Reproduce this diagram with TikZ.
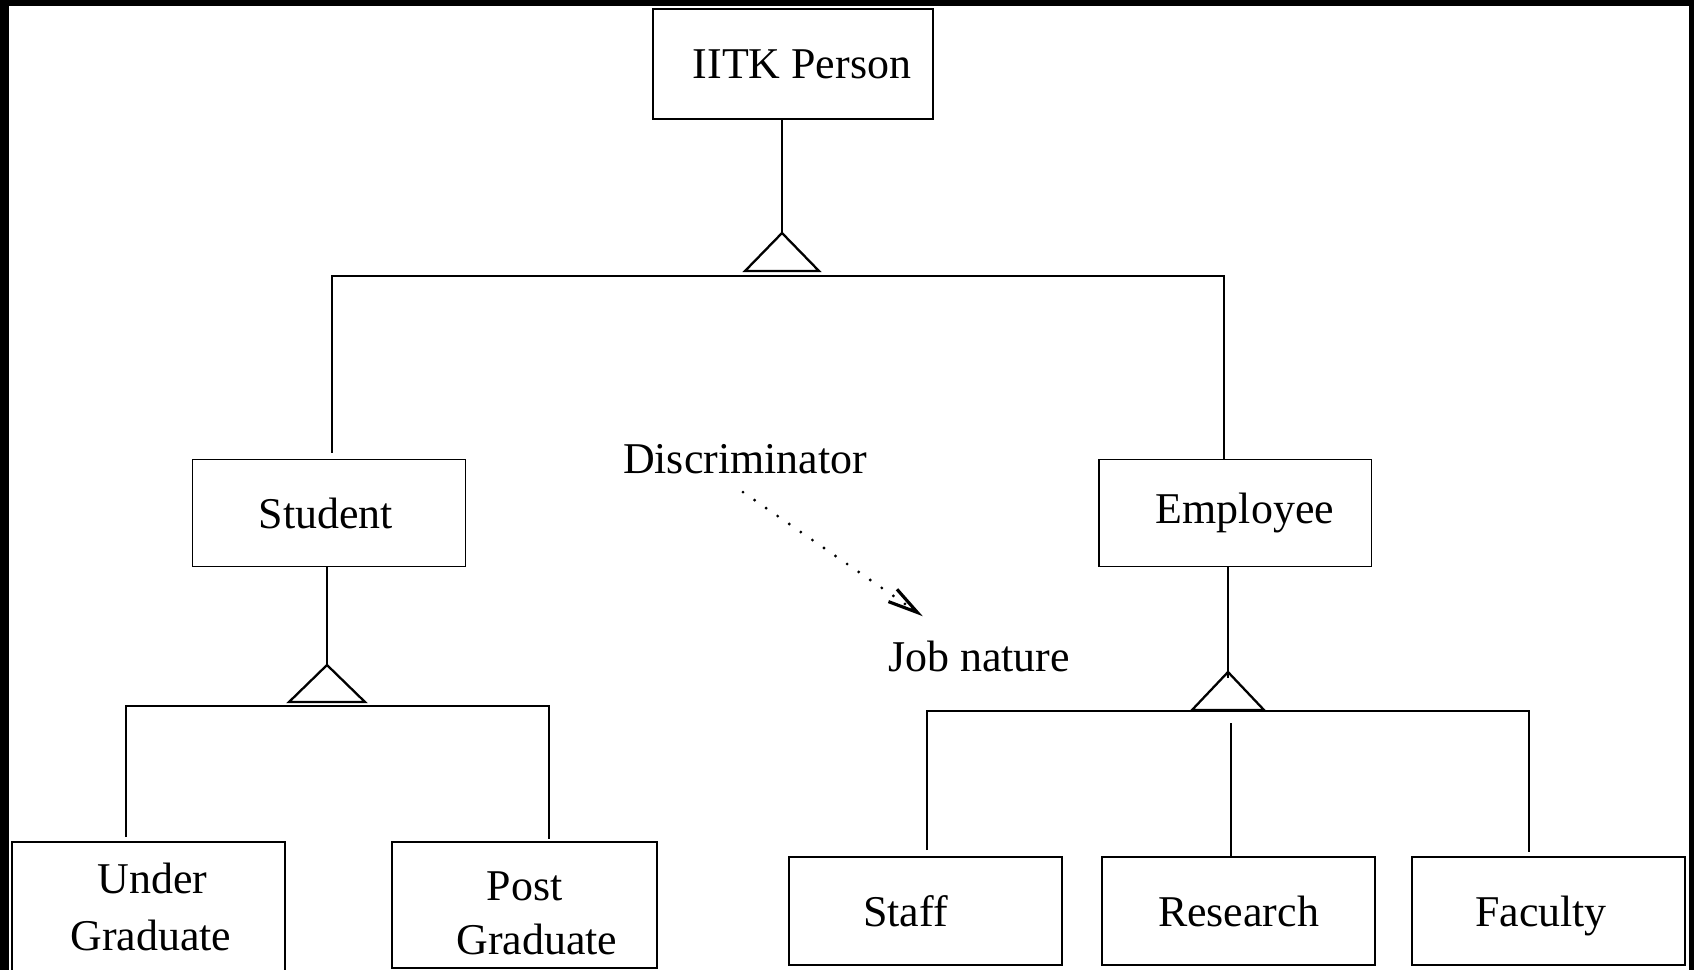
\documentclass[tikz,border=0pt]{standalone}
\usepackage{fontspec}
\setmainfont{Liberation Serif}
\usetikzlibrary{arrows.meta}

\tikzset{
  box/.style={draw, line width=1.1pt, minimum width=5.46cm, minimum height=2.16cm, inner sep=0pt, align=center, font=\fontsize{25}{32}\selectfont},
  lbl/.style={inner sep=0pt, font=\fontsize{25}{32}\selectfont},
  link/.style={line width=1.3pt},
  gen/.style={line width=1.3pt, line join=miter}
}

\begin{document}
\begin{tikzpicture}[x=0.02cm, y=-0.02cm]
\useasboundingbox (0,0) rectangle (1694,970);
\fill (0,0) rectangle (1694,6);
\fill (0,0) rectangle (9,970);
\fill (1689,0) rectangle (1694,970);

\node[box, minimum width=5.6cm, minimum height=2.2cm] (iitk) at (793,64) {\hspace*{0.36cm}IITK Person};
\node[box, minimum height=2.14cm] (student) at (329,513) {Student\hspace*{0.12cm}};
\node[box, minimum height=2.14cm] (employee) at (1235,513) {\hspace*{0.4cm}Employee};
\node[box, minimum width=5.46cm, minimum height=2.6cm] (ug) at (148.5,907) {\hspace*{0.16cm}Under\\\hspace*{0.1cm}Graduate};
\node[box, minimum width=5.3cm, minimum height=2.52cm] (pg) at (524.5,905) {\rule{0pt}{0.85cm}\raisebox{-0.06cm}{Post}\\\hspace*{0.5cm}Graduate};
\node[box] (staff) at (925.5,911) {Staff\hspace*{0.8cm}};
\node[box] (research) at (1238.5,911) {Research};
\node[box] (faculty) at (1548.5,911) {\rule{0pt}{0.8cm}Faculty\hspace*{0.3cm}};
\node[lbl] (disc) at (745,459) {Discriminator};
\node[lbl] (job) at (979,656) {Job nature};

\coordinate (t1) at (782,233);
\coordinate (b1) at (782,276);
\draw[link] (iitk.south -| t1) -- (t1);
\draw[gen] (t1) -- ++(-37,38) -- ++(74,0) -- cycle;
\draw[link] ([xshift=0.06cm,yshift=0.12cm]student.north) |- (b1) -| ([xshift=-0.22cm]employee.north);

\coordinate (t2) at (327,665);
\coordinate (b2) at (327,706);
\draw[link] (student.south -| t2) -- (t2);
\draw[gen] (t2) -- ++(-38,37) -- ++(76,0) -- cycle;
\draw[link] ([xshift=-0.45cm,yshift=0.08cm]ug.north) |- (b2) -| ([xshift=0.49cm,yshift=0.04cm]pg.north);

\coordinate (t3) at (1228,672);
\coordinate (b3) at (1228,711);
\draw[link] (employee.south -| t3) -- ([yshift=-0.12cm]t3);
\draw[gen] (t3) -- ++(-36,38) -- ++(72,0) -- cycle;
\draw[link] ([xshift=0.03cm,yshift=0.12cm]staff.north) |- (b3) -| ([xshift=-0.39cm,yshift=0.08cm]faculty.north);
\draw[link] ([xshift=-0.15cm]research.north) -- ++(0,-133);

\draw[line width=1.8pt, line cap=round, dash pattern=on 0pt off 8pt, -{Straight Barb[length=0.6cm, width=0.3cm, line cap=butt]}]
  ([shift={(-2,18)}]disc.south) -- ([shift={(35,-24)}]job.north west);
\end{tikzpicture}
\end{document}
